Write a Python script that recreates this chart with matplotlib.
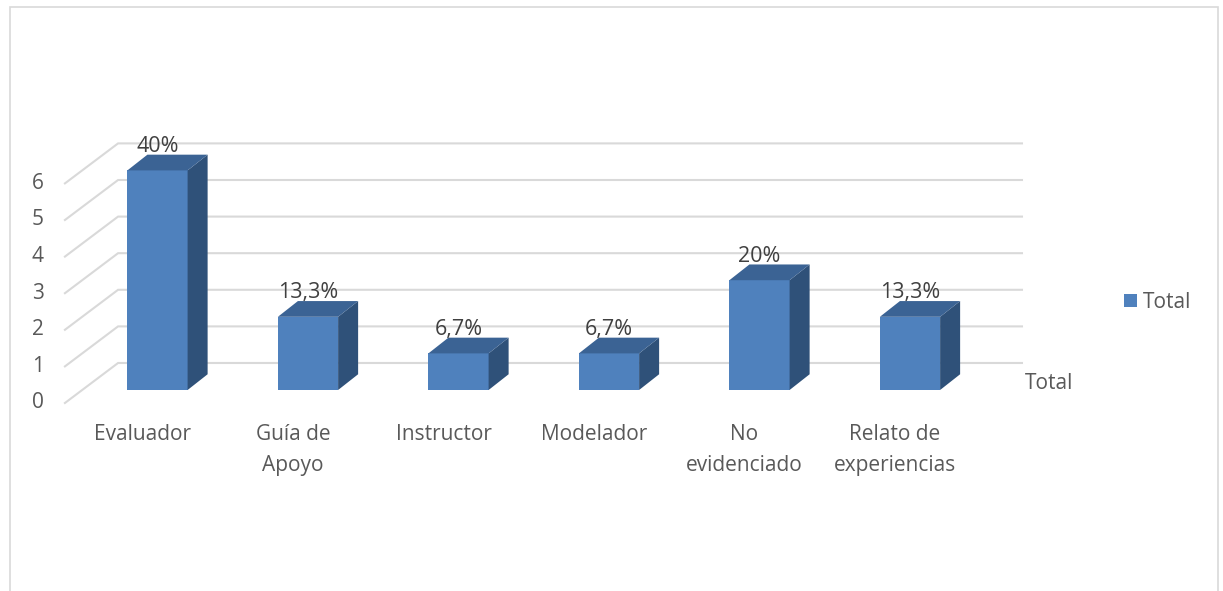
import matplotlib.pyplot as plt
from matplotlib.patches import Polygon, Rectangle

plt.rcParams['font.family'] = ['Open Sans', 'DejaVu Sans']

# data
categories = ["Evaluador", "Guía de\nApoyo", "Instructor", "Modelador", "No\nevidenciado", "Relato de\nexperiencias"]
counts = [6, 2, 1, 1, 3, 2]
series_name = "Total"
y_ticks = [0, 1, 2, 3, 4, 5, 6]

# colours
front_col = "#4f81bd"
top_col = "#3b6394"
side_col = "#2f5179"
grid_col = "#d9d9d9"
text_col = "#595959"

total = sum(counts)


def pct_label(v):
    s = f"{100 * v / total:.1f}".replace(".", ",")
    if s.endswith(",0"):
        s = s[:-2]
    return s + "%"


fig = plt.figure(figsize=(12.23, 5.91), dpi=100)
ax = fig.add_axes([0, 0, 1, 1])
# 1 category = 150.5 px, 1 unit = 36.6 px
ax.set_xlim(-1.0465, 7.0797)
ax.set_ylim(-5.492, 10.656)
ax.axis("off")

# fake 3d geometry (offsets in data units)
bar_w = 0.40
dx, dy = 0.133, 0.43          # bar depth
wall_fx, wall_fy = -0.615, -0.355   # front edge of left wall
wall_bx, wall_by = -0.262, 0.738    # back wall
wall_right = 5.744

# gridlines: slanted on the side wall, flat on the back wall
for v in y_ticks:
    ax.plot([wall_fx, wall_bx, wall_right], [v + wall_fy, v + wall_by, v + wall_by],
            color=grid_col, lw=1.5, solid_joinstyle="miter", zorder=1)
    ax.text(wall_fx - 0.14, v + wall_fy, str(v), ha="right", va="center",
            fontsize=15, color=text_col)

xs = list(range(len(categories)))
bars = ax.bar(xs, counts, width=bar_w, color=front_col, zorder=3, label=series_name)

for x, h in zip(xs, counts):
    l, r = x - bar_w / 2, x + bar_w / 2
    ax.add_patch(Polygon([(r, 0), (r + dx, dy), (r + dx, h + dy), (r, h)],
                         closed=True, facecolor=side_col, edgecolor="none", zorder=3))
    ax.add_patch(Polygon([(l, h), (l + dx, h + dy), (r + dx, h + dy), (r, h)],
                         closed=True, facecolor=top_col, edgecolor="none", zorder=3))
    ax.text(x, h + 0.66, pct_label(h), ha="center", va="center",
            fontsize=15.5, color="#404040", zorder=4)

# category labels along the front edge
for x, name in zip(xs, categories):
    ax.text(x - 0.1, -0.94, name, ha="center", va="top", fontsize=15,
            color=text_col, linespacing=1.6)

# depth axis label
ax.text(wall_right + 0.02, 0.19, series_name, ha="left", va="center",
        fontsize=15, color=text_col)

ax.legend(handles=[bars], labels=[series_name], frameon=False, loc="center left",
          bbox_to_anchor=(1124 / 1223, 1 - 302 / 591), borderpad=0, borderaxespad=0,
          handlelength=0.6, handleheight=0.6, handletextpad=0.3,
          prop={"size": 15}, labelcolor=text_col)

# chart area border
fig.patches.append(Rectangle((10 / 1223, -0.05), 1208 / 1223, 1.05 - 7 / 591,
                             transform=fig.transFigure, fill=False,
                             edgecolor=grid_col, lw=1.2))

fig.savefig("out.png", dpi=100)
